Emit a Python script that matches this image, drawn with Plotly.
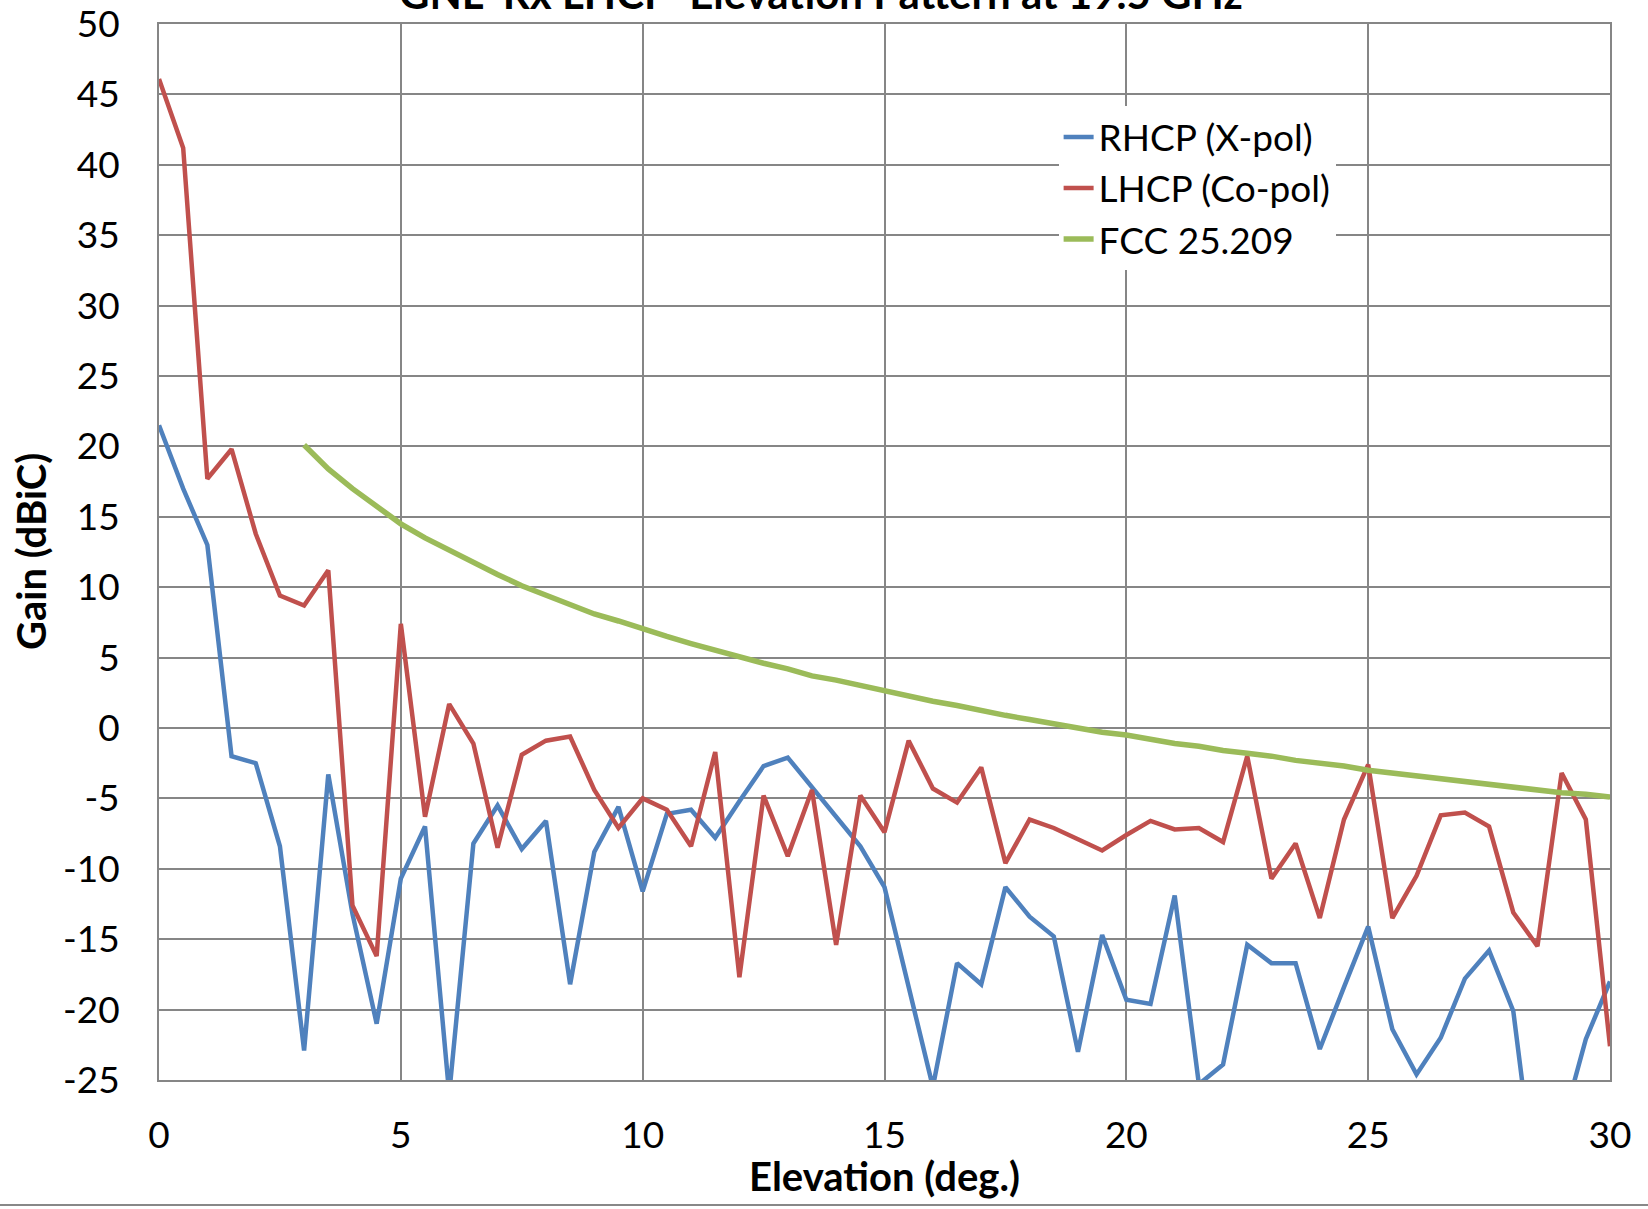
import plotly.graph_objects as go

# ---------------- DATA ----------------
elevation = [i * 0.5 for i in range(61)]

rhcp_xpol = [
    21.5, 17.0, 13.0, -2.0, -2.5, -8.4, -22.9, -3.3, -13.2, -21.0,
    -10.7, -7.0, -26.0, -8.2, -5.5, -8.6, -6.6, -18.2, -8.8, -5.6,
    -11.6, -6.1, -5.8, -7.8, -5.2, -2.7, -2.1, -4.2, -6.3, -8.4,
    -11.3, -18.4, -25.5, -16.7, -18.2, -11.3, -13.4, -14.8, -23.0, -14.7,
    -19.3, -19.6, -11.9, -25.3, -23.9, -15.4, -16.7, -16.7, -22.8, -18.4,
    -14.1, -21.4, -24.6, -22.0, -17.8, -15.8, -20.1, -33.7, -28.4, -22.1,
    -18.0,
]

lhcp_copol = [
    46.1, 41.2, 17.7, 19.8, 13.8, 9.4, 8.7, 11.2, -12.6, -16.2,
    7.4, -6.3, 1.7, -1.1, -8.5, -1.9, -0.9, -0.6, -4.4, -7.1,
    -5.0, -5.8, -8.4, -1.7, -17.7, -4.8, -9.1, -4.4, -15.4, -4.8,
    -7.4, -0.9, -4.3, -5.3, -2.8, -9.6, -6.5, -7.1, -7.9, -8.7,
    -7.6, -6.6, -7.2, -7.1, -8.1, -2.0, -10.7, -8.2, -13.5, -6.5,
    -2.6, -13.5, -10.5, -6.2, -6.0, -7.0, -13.1, -15.5, -3.2, -6.5,
    -22.6,
]

fcc_elevation = elevation[6:]
fcc_25209 = [
    20.1, 18.4, 17.0, 15.7, 14.5, 13.5, 12.6, 11.7, 10.9, 10.1,
    9.4, 8.8, 8.1, 7.6, 7.0, 6.5, 6.0, 5.5, 5.0, 4.6,
    4.2, 3.7, 3.4, 3.0, 2.6, 2.2, 1.9, 1.6, 1.2, 0.9,
    0.6, 0.3, 0.0, -0.3, -0.5, -0.8, -1.1, -1.3, -1.6, -1.8,
    -2.0, -2.3, -2.5, -2.7, -3.0, -3.2, -3.4, -3.6, -3.8, -4.0,
    -4.2, -4.4, -4.6, -4.7, -4.9,
]

x_ticks = [0, 5, 10, 15, 20, 25, 30]
y_ticks = [50, 45, 40, 35, 30, 25, 20, 15, 10, 5, 0, -5, -10, -15, -20, -25]

FONT = "Lato"
GRID = "#868686"

# ---------------- FIGURE ----------------
fig = go.Figure()

fig.add_trace(go.Scatter(
    x=elevation, y=rhcp_xpol, mode="lines", name="RHCP (X-pol)",
    line=dict(color="#4F81BD", width=4.5),
))
fig.add_trace(go.Scatter(
    x=elevation, y=lhcp_copol, mode="lines", name="LHCP (Co-pol)",
    line=dict(color="#C0504D", width=4.5),
))
fig.add_trace(go.Scatter(
    x=fcc_elevation, y=fcc_25209, mode="lines", name="FCC 25.209",
    line=dict(color="#9BBB59", width=5.5),
))

fig.update_layout(
    width=1648,
    height=1209,
    margin=dict(l=159, r=38, t=24, b=129),
    paper_bgcolor="white",
    plot_bgcolor="white",
    font=dict(family=FONT, size=37, color="black"),
    showlegend=True,
    legend=dict(
        x=0.62, y=0.922, xanchor="left", yanchor="top",
        bgcolor="white", font=dict(family=FONT, size=37, color="black"),
    ),
    xaxis=dict(
        range=[0, 30], tickvals=x_ticks, ticktext=[str(v) for v in x_ticks],
        showgrid=True, gridcolor=GRID, gridwidth=2,
        showline=True, linecolor=GRID, linewidth=2, mirror=True,
        zeroline=False, ticks="", ticklabelstandoff=22,
        ticklabeloverflow="allow", automargin=False,
        tickfont=dict(family=FONT, size=37),
    ),
    yaxis=dict(
        range=[-25, 50], tickvals=y_ticks, ticktext=[str(v) for v in y_ticks],
        showgrid=True, gridcolor=GRID, gridwidth=2,
        showline=True, linecolor=GRID, linewidth=2, mirror=True,
        zeroline=False, ticks="", ticklabelstandoff=30,
        ticklabeloverflow="allow", automargin=False,
        tickfont=dict(family=FONT, size=37),
    ),
)

# title sits mostly above the page edge, as in the original screenshot
fig.add_annotation(
    text="<b>GNL  Rx LHCP  Elevation Pattern at 19.5 GHz</b>",
    xref="paper", yref="paper", x=0.456, y=1.0038,
    xanchor="center", yanchor="bottom", showarrow=False,
    font=dict(family=FONT, size=42, color="black"),
)
fig.add_annotation(
    text="<b>Gain (dBiC)</b>", textangle=-90,
    xref="paper", yref="paper", x=-0.0882, y=0.5,
    xanchor="center", yanchor="middle", showarrow=False,
    font=dict(family=FONT, size=40, color="black"),
)
fig.add_annotation(
    text="<b>Elevation (deg.)</b>",
    xref="paper", yref="paper", x=0.5, y=-0.0905,
    xanchor="center", yanchor="middle", showarrow=False,
    font=dict(family=FONT, size=40, color="black"),
)

# chart-area border line along the bottom of the picture
fig.add_shape(
    type="line", xref="paper", yref="paper",
    x0=-0.12, x1=1.05, y0=-0.1184, y1=-0.1184,
    line=dict(color="#888888", width=2),
)

fig.write_html(
    "out.html",
    config={"displayModeBar": False},
    post_script="document.body.style.margin='0';document.body.style.overflow='hidden';",
)
